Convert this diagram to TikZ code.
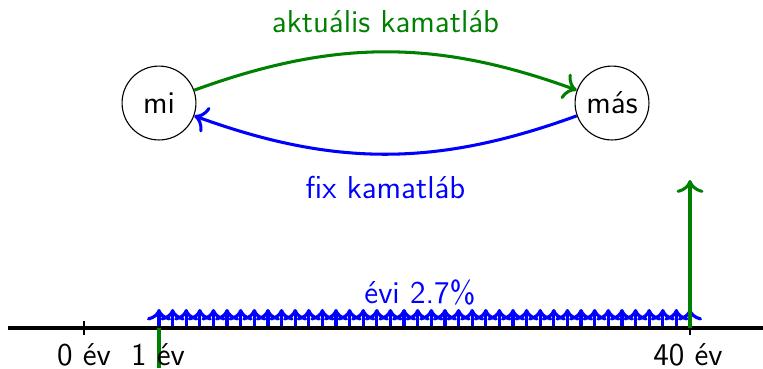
\documentclass[tikz,border=0pt]{standalone}
\usepackage{fontspec}
\usetikzlibrary{arrows.meta}
\tikzset{
  every node/.style={font=\sffamily\fontsize{11.4}{13}\selectfont},
  state/.style={circle,draw,line width=0.4pt,minimum size=26.6pt,inner sep=0pt},
  flowarrow/.style={-{To[scale=1.15]},line width=1.1pt},
  payarrow/.style={-{To},blue,line width=1.15pt},
  lbl/.style={inner sep=1pt}
}
\definecolor{dgreen}{RGB}{0,128,0}
\begin{document}
\begin{tikzpicture}[x=0.36pt,y=-0.36pt]
\useasboundingbox (0,0) rectangle (763,368);
% nodes
\node[state] (mi) at (159,103) {mi};
\node[state] (mas) at (612,103) {más};
\draw[flowarrow,dgreen] (mi) to[bend left=20] node[above=3pt,text=dgreen] (lt) {aktuális kamatláb} (mas);
\draw[flowarrow,blue] (mas) to[bend left=20] node[below=4pt,text=blue] (lb) {fix kamatláb} (mi);
% timeline
\foreach \i in {0,...,39}{
  \coordinate (b\i) at ({159+\i*13.615},328);
  \coordinate (t\i) at ({159+\i*13.615},309);
  \draw[payarrow] (b\i) -- (t\i);
}
\node[text=blue] (evi) at (420,292) {évi 2.7\%};
\coordinate (axL) at (8,328);
\coordinate (axR) at (763,328);
\draw[line width=1.1pt] (axL) -- (axR);
\coordinate (z0) at (84,321);
\coordinate (z1) at (84,335);
\draw[line width=0.6pt] (z0) -- (z1);
\coordinate (f0) at (690,328);
\coordinate (f1) at (690,335);
\draw[line width=0.6pt] (f0) -- (f1);
\coordinate (g1a) at (159,328);
\coordinate (g1b) at (159,368);
\draw[dgreen,line width=1.1pt] (g1a) -- (g1b);
\coordinate (g40) at (690,180);
\draw[flowarrow,dgreen] (f0) -- (g40);
\node (l0) at (84,355) {0 év};
\node (l1) at (158,355) {1 év};
\node (l40) at (688,355) {40 év};
\end{tikzpicture}
\end{document}
